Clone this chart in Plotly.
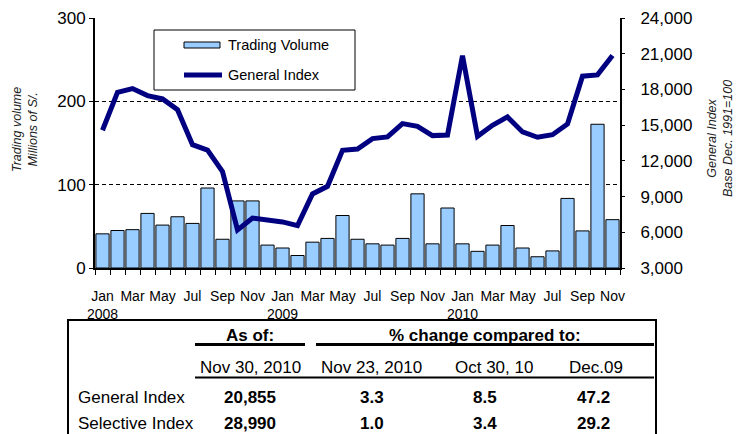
import plotly.graph_objects as go

# ---------------- data ----------------
categories = [
    "Jan 2008", "Feb 2008", "Mar 2008", "Apr 2008", "May 2008", "Jun 2008",
    "Jul 2008", "Aug 2008", "Sep 2008", "Oct 2008", "Nov 2008", "Dec 2008",
    "Jan 2009", "Feb 2009", "Mar 2009", "Apr 2009", "May 2009", "Jun 2009",
    "Jul 2009", "Aug 2009", "Sep 2009", "Oct 2009", "Nov 2009", "Dec 2009",
    "Jan 2010", "Feb 2010", "Mar 2010", "Apr 2010", "May 2010", "Jun 2010",
    "Jul 2010", "Aug 2010", "Sep 2010", "Oct 2010", "Nov 2010",
]
trading_volume = [
    41, 45, 46, 65.5, 51.5, 61.5, 53.5, 96, 34.5, 80.5, 80.5, 27.5,
    24, 15, 31, 35.5, 63, 34.5, 29, 27.5, 35.5, 89, 29, 72,
    29, 20, 27.5, 51, 24, 13.5, 20.5, 83.5, 44.5, 172.5, 58,
]
general_index = [
    14570, 17760, 18070, 17480, 17200, 16300, 13360, 12900, 11100, 6200, 7200, 7000,
    6870, 6560, 9220, 9860, 12890, 13000, 13870, 14010, 15130, 14900, 14120, 14167,
    20840, 14060, 14990, 15690, 14430, 13980, 14200, 15100, 19110, 19220, 20855,
]
left_ticks = [0, 100, 200, 300]
right_ticks = [3000, 6000, 9000, 12000, 15000, 18000, 21000, 24000]

table_header_top = ["As of:", "% change compared to:"]
table_header_dates = ["Nov 30, 2010", "Nov 23, 2010", "Oct 30, 10", "Dec.09"]
table_rows = ["General Index", "Selective Index"]
table_values = [
    ["20,855", "3.3", "8.5", "47.2"],
    ["28,990", "1.0", "3.4", "29.2"],
]

# ---------------- layout helpers (pixel -> paper) ----------------
W, H = 745, 434
L, R, T, B = 95, 125, 18, 166
PW, PH = W - L - R, H - T - B


def px(xp):
    return (xp - L) / PW


def py(yp):
    return (T + PH - yp) / PH


FONT = "Arial, Liberation Sans, sans-serif"
idx = list(range(len(categories)))
tickvals = [i for i in idx if i % 2 == 0]
ticktext = []
for i in tickvals:
    mon, yr = categories[i].split()
    ticktext.append(f"{mon}<br>{yr}" if mon == "Jan" else mon)

fig = go.Figure()
fig.add_trace(go.Bar(
    x=idx, y=trading_volume, name="Trading Volume",
    marker=dict(color="#99CCFF", line=dict(color="black", width=1)),
    showlegend=False,
))
fig.add_trace(go.Scatter(
    x=idx, y=general_index, name="General Index", yaxis="y2", mode="lines",
    line=dict(color="#000080", width=5), showlegend=False,
))

fig.update_layout(
    width=W, height=H,
    margin=dict(l=L, r=R, t=T, b=B),
    paper_bgcolor="white", plot_bgcolor="white",
    font=dict(family=FONT, color="black"),
    bargap=0.12,
    xaxis=dict(
        range=[-0.5, len(categories) - 0.5], automargin=False,
        tickmode="array", tickvals=tickvals, ticktext=ticktext, tickangle=0,
        ticks="", tickfont=dict(size=14), ticklabelstandoff=14,
        showline=True, linecolor="black", linewidth=2,
        showgrid=False, zeroline=False,
        minor=dict(tick0=-0.5, dtick=1, ticks="outside", ticklen=5,
                   tickcolor="black", tickwidth=1, showgrid=False),
    ),
    yaxis=dict(
        range=[0, 300], tickvals=left_ticks, automargin=False,
        ticks="outside", ticklen=4, tickcolor="black", tickfont=dict(size=17),
        showline=True, linecolor="black", linewidth=2,
        showgrid=True, gridcolor="black", gridwidth=1, griddash="4px,3px",
        zeroline=False,
    ),
    yaxis2=dict(
        overlaying="y", side="right", range=[3000, 24000], automargin=False,
        tickvals=right_ticks, tickformat=",",
        ticks="outside", ticklen=3, tickcolor="black", tickfont=dict(size=17),
        ticklabelstandoff=12,
        showline=True, linecolor="black", linewidth=2,
        showgrid=False, zeroline=False,
    ),
)

shapes = []
annotations = []

# ----- legend (drawn) -----
shapes.append(dict(type="rect", xref="paper", yref="paper",
                   x0=px(154), x1=px(355), y0=py(30), y1=py(90),
                   line=dict(color="black", width=1), fillcolor="white", layer="above"))
shapes.append(dict(type="rect", xref="paper", yref="paper",
                   x0=px(184), x1=px(220), y0=py(42), y1=py(48),
                   line=dict(color="black", width=1), fillcolor="#99CCFF", layer="above"))
shapes.append(dict(type="line", xref="paper", yref="paper",
                   x0=px(184), x1=px(222), y0=py(75), y1=py(75),
                   line=dict(color="#000080", width=5), layer="above"))
for label, yy in [("Trading Volume", 45), ("General Index", 75)]:
    annotations.append(dict(text=label, xref="paper", yref="paper", x=px(226), y=py(yy),
                            xanchor="left", yanchor="middle", showarrow=False,
                            font=dict(size=14.5, family=FONT, color="black")))

# ----- axis titles -----
annotations.append(dict(text="<i>Trading volume</i><br><i>Millions of S/.</i>",
                        xref="paper", yref="paper", x=px(25), y=py(130),
                        xanchor="center", yanchor="middle", textangle=-90, showarrow=False,
                        font=dict(size=12.5, family=FONT, color="#222")))
annotations.append(dict(text="<i>General Index</i><br><i>Base Dec. 1991=100</i>",
                        xref="paper", yref="paper", x=px(720), y=py(139),
                        xanchor="center", yanchor="middle", textangle=-90, showarrow=False,
                        font=dict(size=12.5, family=FONT, color="#222")))

# ----- table -----
shapes.append(dict(type="rect", xref="paper", yref="paper",
                   x0=px(68), x1=px(656), y0=py(320), y1=py(460),
                   line=dict(color="black", width=2), fillcolor="rgba(0,0,0,0)"))
shapes.append(dict(type="line", xref="paper", yref="paper",
                   x0=px(195), x1=px(305), y0=py(344.5), y1=py(344.5),
                   line=dict(color="black", width=3)))
shapes.append(dict(type="line", xref="paper", yref="paper",
                   x0=px(316), x1=px(654), y0=py(344.5), y1=py(344.5),
                   line=dict(color="black", width=3)))
shapes.append(dict(type="line", xref="paper", yref="paper",
                   x0=px(195), x1=px(654), y0=py(377.5), y1=py(377.5),
                   line=dict(color="black", width=2)))

TF = 17
for text, xc in zip(table_header_top, [250, 485]):
    annotations.append(dict(text=f"<b>{text}</b>", xref="paper", yref="paper",
                            x=px(xc), y=py(335), xanchor="center", yanchor="middle",
                            showarrow=False, font=dict(size=TF, family=FONT, color="black")))
for text, xc in zip(table_header_dates, [250, 371, 494, 596]):
    annotations.append(dict(text=text, xref="paper", yref="paper",
                            x=px(xc), y=py(367), xanchor="center", yanchor="middle",
                            showarrow=False, font=dict(size=TF, family=FONT, color="black")))
for r, (name, vals) in enumerate(zip(table_rows, table_values)):
    yy = 397 + r * 26
    annotations.append(dict(text=name, xref="paper", yref="paper",
                            x=px(76), y=py(yy), xanchor="left", yanchor="middle",
                            showarrow=False, font=dict(size=TF, family=FONT, color="black")))
    for v, xc in zip(vals, [250, 372, 485, 593]):
        annotations.append(dict(text=f"<b>{v}</b>", xref="paper", yref="paper",
                                x=px(xc), y=py(yy), xanchor="center", yanchor="middle",
                                showarrow=False, font=dict(size=TF, family=FONT, color="black")))

fig.update_layout(shapes=shapes, annotations=annotations)
fig.write_html("out.html", config={"displayModeBar": False},
               post_script="document.body.style.margin='0';document.body.style.padding='0';")
